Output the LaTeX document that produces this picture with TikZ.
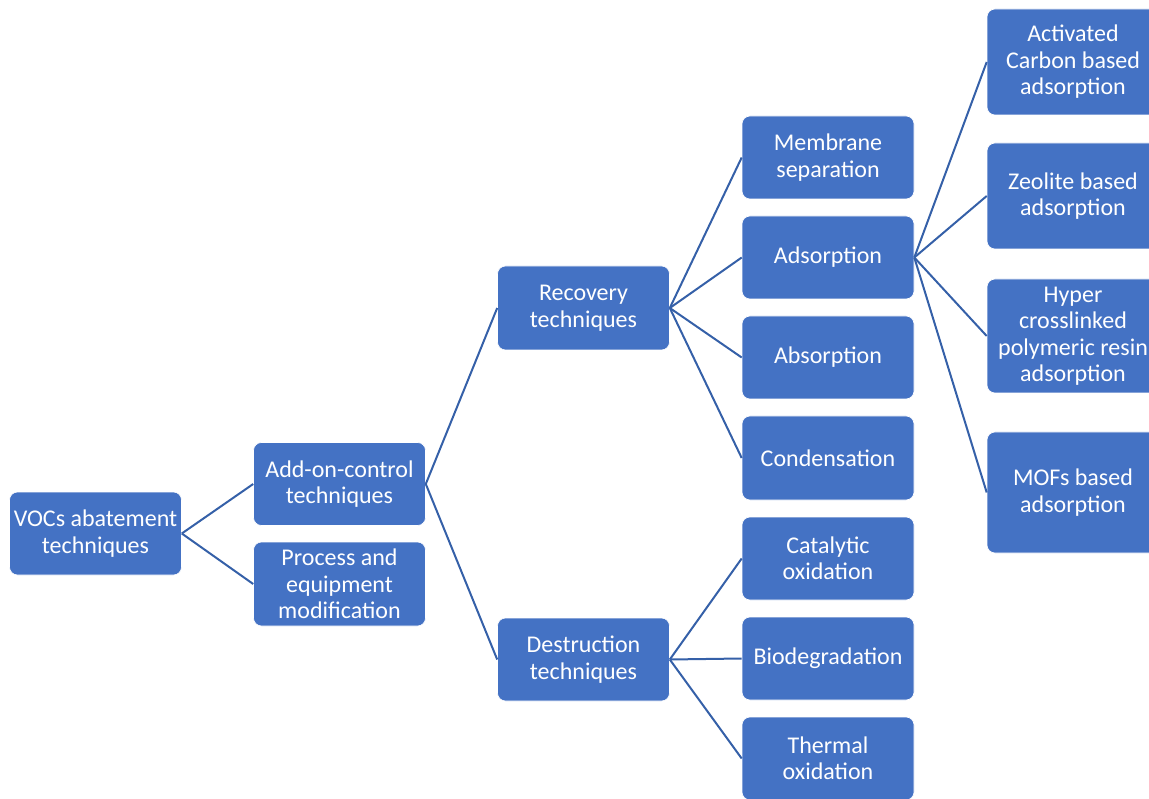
\documentclass[tikz,border=0pt]{standalone}
\usepackage{fontspec}
\setmainfont{Carlito}
\definecolor{boxblue}{HTML}{4472C4}
\definecolor{lineblue}{HTML}{3560A8}
\begin{document}
\begin{tikzpicture}[x=1pt,y=-1pt,
  box/.style={draw=white,line width=0.6pt,fill=boxblue,rounded corners=8pt,minimum width=172pt,minimum height=83pt,inner sep=0pt,align=center,text=white,font=\fontsize{24}{26.5}\selectfont},
  conn/.style={lineblue,line width=2pt}]
\useasboundingbox (0,0) rectangle (1149,799);
\node[box] (voc) at (95.5,533.5) {VOCs abatement\\techniques};
\node[box] (addon) at (339.5,484) {Add-on-control\\techniques};
\node[box,minimum height=84pt] (process) at (339.5,584) {Process and\\equipment\\modification};
\node[box,minimum height=84pt] (recovery) at (583.5,308) {Recovery\\techniques};
\node[box] (destruction) at (583.5,659.5) {Destruction\\techniques};
\node[box] (membrane) at (828,157.5) {Membrane\\separation};
\node[box] (adsorption) at (828,257.5) {Adsorption};
\node[box] (absorption) at (828,357.5) {Absorption};
\node[box,minimum height=84pt] (condensation) at (828,458) {Condensation};
\node[box] (catalytic) at (828,558.5) {Catalytic\\oxidation};
\node[box] (biodeg) at (828,658.5) {Biodegradation};
\node[box] (thermal) at (828,758.5) {Thermal\\oxidation};
\node[box,minimum height=106pt] (activated) at (1073,62) {Activated\\Carbon based\\adsorption};
\node[box,minimum height=106pt] (zeolite) at (1073,196) {Zeolite based\\adsorption};
\node[box,minimum height=114pt] (hyper) at (1073,336) {Hyper\\crosslinked\\polymeric resin\\adsorption};
\node[box,minimum height=121pt] (mofs) at (1073,492.5) {MOFs based\\adsorption};
\draw[conn] (voc.east) -- (addon.west);
\draw[conn] (voc.east) -- (process.west);
\draw[conn] (addon.east) -- (recovery.west);
\draw[conn] (addon.east) -- (destruction.west);
\foreach \c in {membrane,adsorption,absorption,condensation}
  \draw[conn] (recovery.east) -- (\c.west);
\foreach \c in {catalytic,biodeg,thermal}
  \draw[conn] (destruction.east) -- (\c.west);
\foreach \c in {activated,zeolite,hyper,mofs}
  \draw[conn] (adsorption.east) -- (\c.west);
\end{tikzpicture}
\end{document}
